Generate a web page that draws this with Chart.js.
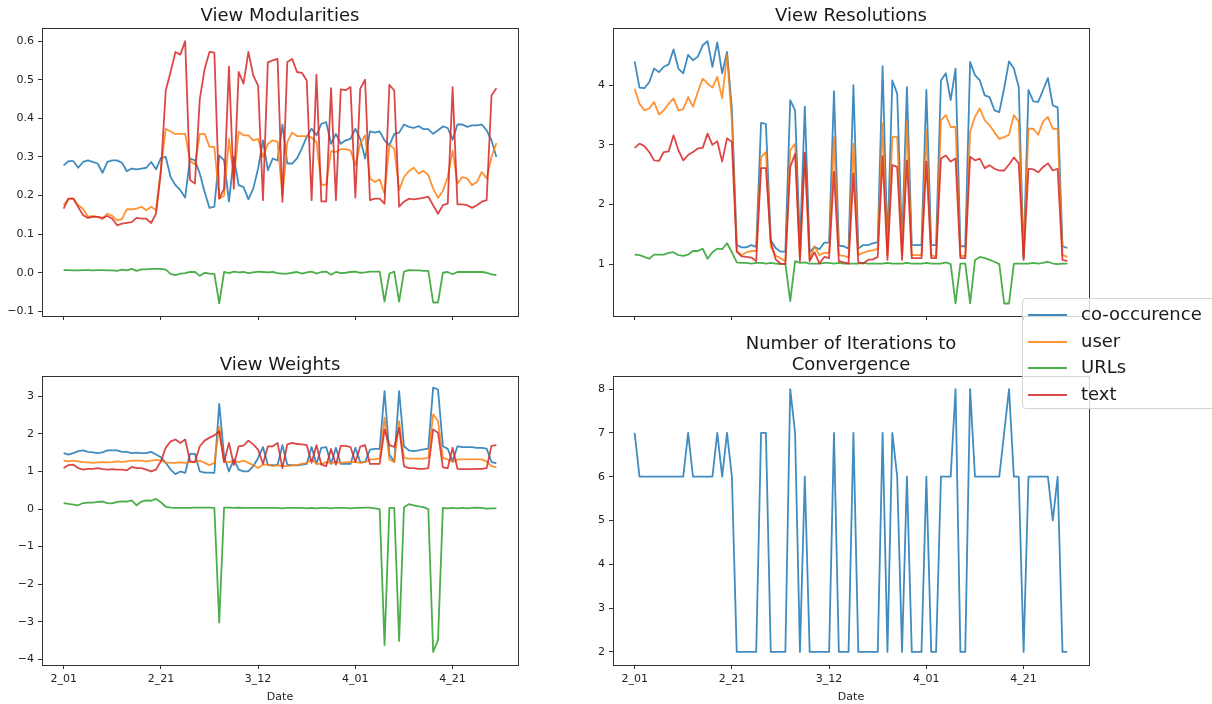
<!DOCTYPE html>
<html>
<head>
<meta charset="utf-8">
<style>
  body { margin: 0; width: 1212px; height: 704px; overflow: hidden; background: #fff; font-family: "DejaVu Sans", sans-serif; position: relative; }
  canvas { position: absolute; }
  #legend { position: absolute; left: 1022px; top: 298px; width: 210px; height: 111px; box-sizing: border-box;
            border: 1px solid #d4d4d4; border-radius: 4px; background: rgba(255,255,255,0.8); }
  #legend .sw { position: absolute; left: 5px; width: 39px; height: 2px; }
  #legend .lab { position: absolute; left: 58px; font-size: 18px; line-height: 22px; color: #1a1a1a; white-space: nowrap; }
</style>
</head>
<body>
<canvas id="tl" width="530" height="330" style="left:0;top:0"></canvas>
<canvas id="tr" width="530" height="330" style="left:570px;top:0"></canvas>
<canvas id="bl" width="530" height="379" style="left:0;top:325px"></canvas>
<canvas id="br" width="530" height="379" style="left:570px;top:325px"></canvas>
<div id="legend"></div>

<script src="https://cdn.jsdelivr.net/npm/chart.js@4.4.0/dist/chart.umd.min.js"></script>
<script>
// days are counted from 2_01 (index 0) to 4_30 (index 89)
const xTickDays = [0, 20, 40, 60, 80];
const xTickLabels = ['2_01', '2_21', '3_12', '4_01', '4_21'];
const xAxisTitle = 'Date';
const legendLabels = ['co-occurence', 'user', 'URLs', 'text'];

// View Modularities
const tlCooc = [0.278,0.289,0.289,0.272,0.287,0.291,0.287,0.283,0.259,0.287,
  0.291,0.291,0.285,0.263,0.270,0.268,0.270,0.272,0.287,0.268,
  0.297,0.300,0.248,0.227,0.214,0.195,0.296,0.291,0.257,0.209,
  0.168,0.171,0.304,0.291,0.184,0.300,0.227,0.222,0.190,0.218,
  0.270,0.343,0.265,0.296,0.291,0.384,0.283,0.283,0.296,0.322,
  0.352,0.373,0.356,0.386,0.390,0.334,0.360,0.334,0.343,0.347,
  0.373,0.347,0.296,0.366,0.363,0.366,0.343,0.330,0.360,0.363,
  0.384,0.378,0.375,0.380,0.372,0.372,0.360,0.369,0.379,0.375,
  0.345,0.384,0.384,0.378,0.382,0.382,0.384,0.369,0.343,0.300];
const tlUser = [0.175,0.192,0.192,0.175,0.165,0.145,0.147,0.145,0.139,0.153,
  0.147,0.136,0.139,0.165,0.164,0.166,0.171,0.162,0.171,0.162,
  0.270,0.373,0.366,0.359,0.360,0.360,0.290,0.280,0.360,0.360,
  0.326,0.326,0.192,0.200,0.347,0.244,0.365,0.356,0.356,0.343,
  0.347,0.300,0.334,0.343,0.339,0.197,0.339,0.363,0.354,0.354,
  0.354,0.350,0.339,0.228,0.228,0.315,0.313,0.320,0.320,0.317,
  0.278,0.334,0.356,0.244,0.235,0.242,0.205,0.332,0.321,0.214,
  0.248,0.263,0.272,0.257,0.264,0.253,0.218,0.194,0.212,0.248,
  0.317,0.231,0.248,0.244,0.227,0.235,0.261,0.244,0.300,0.336];
const tlUrls = [0.007,0.007,0.006,0.006,0.007,0.007,0.006,0.007,0.007,0.006,
  0.006,0.005,0.008,0.006,0.010,0.005,0.009,0.009,0.010,0.010,
  0.010,0.008,-0.003,-0.006,-0.002,-0.001,0.002,0.002,-0.008,0.000,
  -0.002,-0.003,-0.079,0.002,-0.001,0.003,0.001,0.002,-0.001,0.001,
  0.003,0.002,0.001,0.002,-0.001,-0.002,-0.002,0.000,0.002,-0.002,
  0.001,0.003,-0.002,0.002,0.003,-0.005,0.002,-0.001,0.000,0.002,
  0.003,0.000,0.001,0.003,0.003,0.003,-0.075,-0.002,0.003,-0.075,
  0.003,0.007,0.006,0.006,0.005,0.005,-0.077,-0.077,0.000,0.002,
  -0.004,0.002,0.002,0.002,0.002,0.002,0.002,0.000,-0.004,-0.006];
const tlText = [0.166,0.192,0.192,0.170,0.149,0.142,0.145,0.145,0.142,0.147,
  0.140,0.123,0.127,0.129,0.131,0.142,0.140,0.140,0.129,0.153,
  0.260,0.472,0.520,0.572,0.565,0.600,0.240,0.231,0.450,0.528,
  0.572,0.570,0.192,0.218,0.534,0.218,0.520,0.490,0.572,0.511,
  0.485,0.188,0.545,0.550,0.554,0.184,0.546,0.554,0.520,0.518,
  0.498,0.188,0.513,0.185,0.185,0.478,0.188,0.475,0.473,0.481,
  0.195,0.477,0.500,0.188,0.192,0.192,0.179,0.487,0.472,0.171,
  0.184,0.192,0.190,0.192,0.194,0.197,0.175,0.153,0.175,0.179,
  0.481,0.177,0.177,0.175,0.168,0.175,0.184,0.188,0.459,0.478];

// View Resolutions
const trCooc = [4.40,3.96,3.95,4.05,4.28,4.22,4.31,4.35,4.60,4.28,
  4.20,4.51,4.42,4.48,4.67,4.74,4.31,4.72,4.20,4.56,
  3.60,1.32,1.28,1.28,1.32,1.29,3.37,3.35,1.40,1.27,
  1.21,1.21,3.75,3.58,1.30,3.64,1.20,1.29,1.25,1.36,
  1.36,3.90,1.31,1.30,1.26,4.00,1.26,1.32,1.32,1.35,
  1.37,4.32,1.30,4.08,3.86,1.36,3.97,1.32,1.32,1.32,
  3.92,1.32,1.32,4.08,4.20,3.75,4.28,1.30,1.30,4.39,
  4.17,4.08,3.83,3.80,3.58,3.55,3.95,4.40,4.28,3.97,
  1.10,3.92,3.73,3.72,3.92,4.12,3.66,3.63,1.30,1.27];
const trUser = [3.94,3.69,3.58,3.61,3.72,3.51,3.58,3.69,3.78,3.58,
  3.60,3.80,3.64,3.89,4.11,4.03,3.96,4.14,3.78,4.51,
  3.40,1.22,1.15,1.20,1.22,1.22,2.79,2.88,1.29,1.14,
  1.10,1.05,2.91,3.02,1.10,2.85,1.08,1.30,1.15,1.19,
  1.19,3.13,1.15,1.14,1.11,3.02,1.15,1.19,1.22,1.23,
  1.26,3.36,1.15,3.13,3.14,1.15,3.39,1.15,1.15,1.15,
  3.25,1.15,1.12,3.41,3.50,3.30,3.30,1.14,1.14,3.22,
  3.47,3.61,3.41,3.33,3.21,3.10,3.13,3.17,3.50,3.39,
  1.10,3.27,3.27,3.17,3.39,3.47,3.27,3.27,1.15,1.12];
const trUrls = [1.16,1.15,1.12,1.09,1.16,1.16,1.16,1.19,1.20,1.15,
  1.14,1.16,1.22,1.22,1.26,1.09,1.20,1.26,1.25,1.35,
  1.20,1.03,1.02,1.02,1.01,1.02,1.02,1.01,1.02,1.01,
  1.00,1.01,0.38,1.05,1.02,1.03,1.01,1.01,1.01,1.02,
  1.02,1.01,1.02,1.01,1.01,1.01,1.01,1.02,1.01,1.01,
  1.01,1.01,1.02,1.01,1.01,1.01,1.02,1.01,1.01,1.01,
  1.02,1.01,1.01,1.01,1.03,1.00,0.34,1.01,1.01,0.34,
  1.07,1.12,1.10,1.07,1.04,1.00,0.34,0.34,1.01,1.01,
  1.01,1.01,1.02,1.01,1.02,1.04,1.01,1.00,1.01,1.01];
const trText = [2.95,3.02,2.98,2.88,2.74,2.73,2.88,2.89,3.16,2.91,
  2.74,2.83,2.88,2.94,2.95,3.19,3.00,3.06,2.72,3.11,
  3.05,1.21,1.13,1.12,1.11,1.05,2.61,2.61,1.38,1.08,
  1.01,1.00,2.63,2.85,1.05,2.87,1.05,1.20,1.01,1.12,
  1.10,2.55,1.05,1.03,1.01,2.52,1.03,1.01,1.07,1.08,
  1.12,2.81,1.07,2.66,2.63,1.07,2.74,1.10,1.10,1.10,
  2.72,1.10,1.10,2.77,2.82,2.72,2.77,1.10,1.10,2.80,
  2.74,2.77,2.61,2.66,2.60,2.57,2.57,2.67,2.79,2.69,
  1.07,2.60,2.59,2.54,2.63,2.69,2.57,2.60,1.07,1.05];

// View Weights
const blCooc = [1.49,1.45,1.49,1.54,1.56,1.52,1.51,1.49,1.51,1.56,
  1.56,1.56,1.52,1.52,1.49,1.50,1.49,1.49,1.52,1.45,
  1.38,1.23,1.05,0.93,1.00,0.96,1.47,1.47,1.00,0.97,
  0.97,0.96,2.80,1.40,1.00,1.32,1.05,1.00,1.00,1.14,
  1.36,1.65,1.17,1.17,1.17,1.70,1.18,1.16,1.16,1.18,
  1.20,1.65,1.20,1.63,1.65,1.20,1.63,1.20,1.20,1.20,
  1.63,1.25,1.25,1.58,1.60,1.60,3.14,1.45,1.25,3.14,
  1.67,1.56,1.54,1.56,1.59,1.61,3.23,3.18,1.67,1.60,
  1.27,1.67,1.65,1.65,1.65,1.63,1.63,1.61,1.25,1.22];
const blUser = [1.29,1.27,1.29,1.27,1.25,1.24,1.23,1.24,1.25,1.24,
  1.25,1.27,1.25,1.27,1.29,1.29,1.29,1.27,1.29,1.31,
  1.29,1.24,1.23,1.23,1.24,1.23,1.25,1.25,1.29,1.23,
  1.17,1.23,2.20,1.25,1.25,1.29,1.25,1.29,1.23,1.17,
  1.09,1.18,1.18,1.14,1.17,1.14,1.14,1.17,1.17,1.20,
  1.23,1.32,1.20,1.20,1.25,1.23,1.25,1.23,1.25,1.25,
  1.25,1.23,1.25,1.32,1.32,1.35,2.43,1.32,1.25,2.34,
  1.36,1.34,1.34,1.34,1.34,1.36,2.52,2.34,1.36,1.32,
  1.25,1.32,1.32,1.32,1.32,1.32,1.32,1.27,1.14,1.11];
const blUrls = [0.16,0.14,0.12,0.10,0.16,0.17,0.17,0.19,0.20,0.16,
  0.15,0.19,0.20,0.20,0.23,0.10,0.20,0.23,0.22,0.27,
  0.18,0.06,0.04,0.03,0.03,0.03,0.03,0.04,0.04,0.04,
  0.04,0.03,-3.02,0.04,0.04,0.03,0.04,0.03,0.03,0.03,
  0.03,0.03,0.03,0.03,0.03,0.02,0.03,0.03,0.03,0.03,
  0.02,0.03,0.02,0.03,0.03,0.02,0.03,0.03,0.03,0.02,
  0.03,0.03,0.04,0.04,0.02,0.00,-3.62,0.03,0.03,-3.51,
  0.05,0.13,0.10,0.07,0.05,0.00,-3.80,-3.49,0.03,0.02,
  0.03,0.02,0.03,0.02,0.03,0.04,0.03,0.01,0.02,0.02];
const blText = [1.09,1.17,1.18,1.09,1.05,1.07,1.07,1.09,1.06,1.05,
  1.06,1.05,1.05,1.03,1.12,1.09,1.09,1.05,1.00,1.05,
  1.27,1.63,1.80,1.85,1.76,1.85,1.27,1.25,1.67,1.82,
  1.90,1.96,2.07,1.25,1.76,1.17,1.67,1.69,1.82,1.72,
  1.58,1.20,1.67,1.67,1.76,1.09,1.72,1.76,1.73,1.72,
  1.70,1.23,1.70,1.18,1.14,1.60,1.18,1.68,1.68,1.65,
  1.25,1.66,1.70,1.20,1.20,1.20,2.12,1.70,1.65,2.16,
  1.14,1.09,1.09,1.07,1.07,1.09,2.12,2.03,1.11,1.09,
  1.63,1.07,1.06,1.06,1.06,1.07,1.07,1.09,1.68,1.70];

// Number of Iterations to Convergence
const brIterations = [7,6,6,6,6,6,6,6,6,6,
  6,7,6,6,6,6,6,7,6,7,
  6,2,2,2,2,2,7,7,2,2,
  2,2,8,7,2,6,2,2,2,2,
  2,7,2,2,2,7,2,2,2,2,
  2,7,2,7,6,2,6,2,2,2,
  6,2,2,6,6,6,8,2,2,8,
  6,6,6,6,6,6,7,8,6,6,
  2,6,6,6,6,6,5,6,2,2];

const tlYTicks = [-0.1, 0, 0.1, 0.2, 0.3, 0.4, 0.5, 0.6];
const trYTicks = [1, 2, 3, 4];
const blYTicks = [-4, -3, -2, -1, 0, 1, 2, 3];
const brYTicks = [2, 3, 4, 5, 6, 7, 8];

const colors = ['rgba(31,119,180,0.85)', 'rgba(255,127,14,0.85)', 'rgba(44,160,44,0.85)', 'rgba(214,39,40,0.85)'];
const fontFamily = 'DejaVu Sans';

function series(values) {
  return values.map((v, i) => ({x: i, y: v}));
}

function lines(arrays) {
  // matplotlib draws later lines on top: give them a lower order
  return arrays.map((arr, k) => ({
    data: series(arr),
    borderColor: colors[k],
    borderWidth: 1.8,
    pointRadius: 0,
    tension: 0,
    fill: false,
    borderJoinStyle: 'round',
    order: arrays.length - k
  }));
}

function fmt(decimals) {
  return v => v.toFixed(decimals).replace('-', '\u2212');
}

// frame around the plot plus a title centred over it
const framePlugin = {
  id: 'frame',
  afterDraw(chart, args, opts) {
    const {ctx, chartArea: a} = chart;
    ctx.save();
    ctx.strokeStyle = '#333';
    ctx.lineWidth = 1;
    ctx.strokeRect(Math.round(a.left) + 0.5, Math.round(a.top) + 0.5,
                   Math.round(a.right - a.left), Math.round(a.bottom - a.top));
    ctx.fillStyle = '#1a1a1a';
    ctx.font = '18px "' + fontFamily + '"';
    ctx.textAlign = 'center';
    ctx.textBaseline = 'alphabetic';
    opts.lines.forEach((t, k) => ctx.fillText(t, (a.left + a.right) / 2, opts.baselines[k]));
    ctx.restore();
  }
};

function makeChart(id, datasets, o) {
  const tickFont = {family: fontFamily, size: 11};
  return new Chart(document.getElementById(id), {
    type: 'line',
    data: {datasets: datasets},
    options: {
      responsive: false,
      animation: false,
      events: [],
      layout: {padding: {top: o.padTop, right: o.padRight, left: 0, bottom: 0}},
      plugins: {
        legend: {display: false},
        tooltip: {enabled: false},
        frame: {lines: o.title, baselines: o.titleY}
      },
      scales: {
        x: {
          type: 'linear', min: -4.45, max: 93.45,
          afterBuildTicks: s => { s.ticks = xTickDays.map(v => ({value: v})); },
          afterFit: s => { s.height = o.xh; },
          grid: {drawOnChartArea: false, drawTicks: true, tickLength: 4, tickColor: '#333', tickWidth: 1},
          border: {display: false},
          ticks: {
            padding: 4, color: '#222', font: tickFont, maxRotation: 0, autoSkip: false,
            callback: v => o.xLabels ? xTickLabels[xTickDays.indexOf(v)] : ''
          },
          title: {display: o.xLabels, text: xAxisTitle, color: '#222', font: tickFont, padding: {top: 0, bottom: 0}}
        },
        y: {
          type: 'linear', min: o.yMin, max: o.yMax,
          afterBuildTicks: s => { s.ticks = o.yTicks.map(v => ({value: v})); },
          afterFit: s => { s.width = o.yw; },
          grid: {drawOnChartArea: false, drawTicks: true, tickLength: 4, tickColor: '#333', tickWidth: 1},
          border: {display: false},
          ticks: {padding: 4, color: '#222', font: tickFont, autoSkip: false, callback: o.yFmt}
        }
      }
    },
    plugins: [framePlugin]
  });
}

makeChart('tl', lines([tlCooc, tlUser, tlUrls, tlText]), {
  padTop: 28, padRight: 12, xh: 14, yw: 42, xLabels: false,
  yMin: -0.112, yMax: 0.634, yTicks: tlYTicks, yFmt: fmt(1),
  title: ['View Modularities'], titleY: [20.7]
});
makeChart('tr', lines([trCooc, trUser, trUrls, trText]), {
  padTop: 28, padRight: 11, xh: 14, yw: 43, xLabels: false,
  yMin: 0.13, yMax: 4.96, yTicks: trYTicks, yFmt: fmt(0),
  title: ['View Resolutions'], titleY: [20.7]
});
makeChart('bl', lines([blCooc, blUser, blUrls, blText]), {
  padTop: 51, padRight: 12, xh: 39, yw: 42, xLabels: true,
  yMin: -4.15, yMax: 3.54, yTicks: blYTicks, yFmt: fmt(0),
  title: ['View Weights'], titleY: [44.5]
});
makeChart('br', lines([brIterations]), {
  padTop: 51, padRight: 11, xh: 39, yw: 43, xLabels: true,
  yMin: 1.7, yMax: 8.3, yTicks: brYTicks, yFmt: fmt(0),
  title: ['Number of Iterations to', 'Convergence'], titleY: [23.5, 44.5]
});

// legend sits outside the plots, on the right edge of the figure
const legend = document.getElementById('legend');
legendLabels.forEach((label, k) => {
  const cy = 16 + 26.7 * k;
  const sw = document.createElement('div');
  sw.className = 'sw';
  sw.style.top = (cy - 1) + 'px';
  sw.style.background = colors[k];
  const lab = document.createElement('div');
  lab.className = 'lab';
  lab.style.top = (cy - 12) + 'px';
  lab.textContent = label;
  legend.appendChild(sw);
  legend.appendChild(lab);
});
</script>
</body>
</html>
